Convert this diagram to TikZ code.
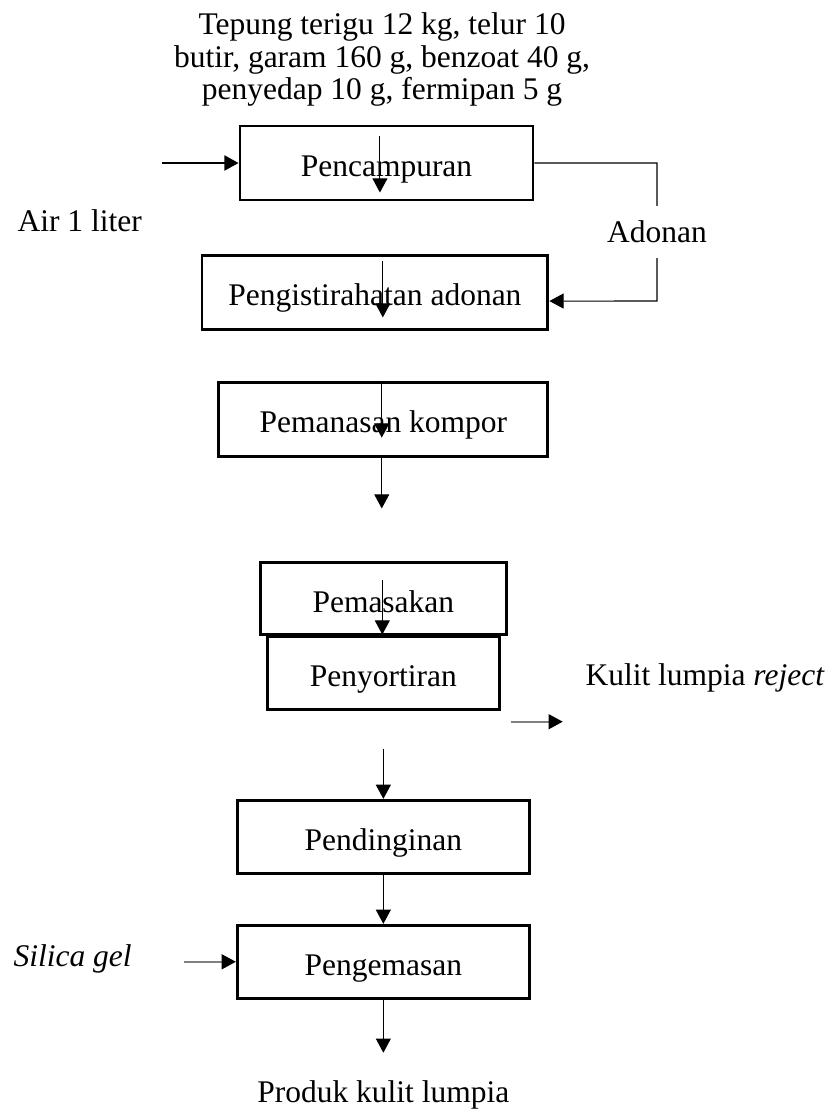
\documentclass[tikz,border=0pt]{standalone}
\usepackage{fontspec}
\setmainfont{Liberation Serif}
\usetikzlibrary{arrows.meta, positioning}
\tikzset{
	proc/.style={rectangle, draw, line width=1.1pt, inner ysep=0pt,
		text height=19.05pt, text depth=9.14pt},
	arr/.style={-{Triangle[length=5.4pt, width=5.7pt]}, line width=0.4pt},
	barr/.style={arr, line width=0.8pt},
	garr/.style={-{Triangle[length=5.4pt, width=5.7pt, color=black]}, draw=gray, line width=0.6pt},
	lbl/.style={inner sep=0pt},
}
\begin{document}
\begin{tikzpicture}[x=0.381pt, y=0.381pt, font=\fontsize{12}{12.4}\selectfont]
	\useasboundingbox (0,0) rectangle (834,-1110);
	
	\node[proc, minimum width=111.6pt] (mix) at (386.5,-163) {Pencampuran};
	\node[proc, minimum width=131.8pt, below=19.9pt of mix, xshift=-4.4pt] (rest) {Pengistirahatan adonan};
	\node[proc, minimum width=125.3pt, below=19.1pt of rest, xshift=3.2pt] (heat) {Pemanasan kompor};
	\node[proc, minimum width=93.7pt, text depth=8.38pt, below=39.3pt of heat] (cook) {Pemasakan};
	\node[proc, minimum width=88.4pt, text depth=8.76pt, below=-0.3pt of cook] (sort) {Penyortiran};
	\node[proc, minimum width=111.3pt, text depth=8.76pt, below=33.6pt of sort] (cool) {Pendinginan};
	\node[proc, minimum width=111.3pt, text depth=8.76pt, below=18.7pt of cool] (pack) {Pengemasan};
	
	\node[lbl, align=center, above=6.7pt of mix, xshift=-1.7pt] (bahan) {Tepung terigu 12 kg, telur 10\\butir, garam 160 g, benzoat 40 g,\\penyedap 10 g, fermipan 5 g};
	\node[lbl, anchor=base west] (air) at (17,-231) {Air 1 liter};
	\node[lbl, anchor=base west] (reject) at (585,-685) {Kulit lumpia \textit{reject}};
	\node[lbl, anchor=base west] (silica) at (13,-966) {\textit{Silica gel}};
	
	\coordinate[left=29.3pt of mix.west] (airin);
	\coordinate (fbturn) at (657,-301);
	\coordinate[below=19.4pt of heat, xshift=-0.6pt] (heatend);
	\coordinate[below=14.5pt of sort] (sortend);
	\coordinate[below=20.2pt of pack] (packend);
	\coordinate (rejA) at ([xshift=3.8pt, yshift=-4.2pt]sort.south east);
	\coordinate[right=19.8pt of rejA] (rejB);
	\coordinate[left=19.8pt of pack.west] (silin);
	
	\node[lbl, below=10.5pt of packend] (produk) {Produk kulit lumpia};
	
	\draw[barr] (airin) -- (mix);
	\draw[arr] (mix.east) -| node[pos=0.75, fill=white, inner xsep=2pt, inner ysep=5.7pt] (adonan) {Adonan} (fbturn) -- ([yshift=-3.4pt]rest.east);
	
	\draw[arr] ([xshift=-2.5pt, yshift=-4.2pt]mix.north) -- ([xshift=-2.5pt, yshift=3.4pt]mix.south);
	\draw[arr] ([xshift=3pt, yshift=-2.7pt]rest.north) -- ([xshift=3pt, yshift=5pt]rest.south);
	\draw[arr] ([xshift=-0.6pt]heat.north) -- ([xshift=-0.6pt, yshift=7.6pt]heat.south);
	\draw[arr] ([xshift=-0.6pt]heat.south) -- (heatend);
	\draw[arr] ([xshift=-0.4pt, yshift=-7.2pt]cook.north) -- ([xshift=-0.4pt, yshift=0.4pt]cook.south);
	\draw[arr] (sortend) -- (cool);
	\draw[arr] (cool) -- (pack);
	\draw[arr] (pack) -- (packend);
	
	\draw[garr] (rejA) -- (rejB);
	\draw[garr] (silin) -- (pack);
	
\end{tikzpicture}
\end{document}
